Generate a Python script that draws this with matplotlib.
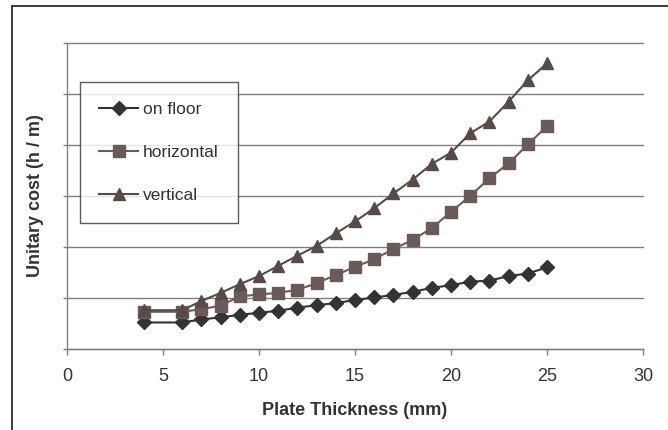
import matplotlib.pyplot as plt
from matplotlib.patches import Rectangle

plt.rcParams['font.family'] = ['Liberation Sans', 'DejaVu Sans']

# Data (y axis has no labels, gridline spacing = 1)
thickness = [4, 6, 7, 8, 9, 10, 11, 12, 13, 14, 15, 16, 17, 18, 19, 20, 21, 22, 23, 24, 25]
on_floor = [0.52, 0.52, 0.58, 0.62, 0.67, 0.71, 0.75, 0.81, 0.86, 0.90, 0.96,
            1.01, 1.06, 1.12, 1.20, 1.25, 1.32, 1.34, 1.43, 1.48, 1.60]
horizontal = [0.73, 0.73, 0.78, 0.85, 1.03, 1.07, 1.10, 1.16, 1.29, 1.45, 1.61,
              1.76, 1.96, 2.14, 2.37, 2.69, 3.00, 3.35, 3.64, 4.01, 4.37]
vertical = [0.76, 0.76, 0.94, 1.10, 1.27, 1.43, 1.63, 1.83, 2.02, 2.27, 2.50,
            2.76, 3.05, 3.32, 3.63, 3.85, 4.23, 4.46, 4.85, 5.27, 5.60]

fig = plt.figure(figsize=(6.68, 4.30), dpi=100)
ax = fig.add_axes([0.1003, 0.1884, 0.8623, 0.7116])

# outer chart border (only left/top visible in the reference)
fig.patches.append(Rectangle((12 / 668, -0.2), 1.5, 1.2 - 6 / 430,
                             transform=fig.transFigure, fill=False,
                             edgecolor='#3a3a3a', linewidth=1.4))

ax.plot(thickness, on_floor, color='#333333', marker='D', markersize=7.5,
        linewidth=1.5, label='on floor', zorder=3)
ax.plot(thickness, horizontal, color='#6b5b58', marker='s', markersize=8,
        linewidth=1.5, label='horizontal', zorder=3)
ax.plot(thickness, vertical, color='#574a47', marker='^', markersize=9,
        linewidth=1.5, label='vertical', zorder=3)

ax.set_xlim(0, 30)
ax.set_ylim(0, 6)
ax.set_xticks(range(0, 31, 5))
ax.set_yticks(range(0, 7))
ax.set_yticklabels([])
ax.yaxis.grid(True, color='#808080', linewidth=1.0)
ax.set_axisbelow(True)
for gl in ax.get_ygridlines():
    gl.set_clip_on(False)

for s in ['top', 'right']:
    ax.spines[s].set_visible(False)
for s in ['left', 'bottom']:
    ax.spines[s].set_color('#808080')
    ax.spines[s].set_linewidth(1.0)

ax.tick_params(axis='x', colors='#808080', length=4, width=1, pad=10,
               labelsize=13, labelcolor='#333333')
ax.tick_params(axis='y', colors='#808080', length=3, width=1)

ax.set_xlabel('Plate Thickness (mm)', fontsize=13, fontweight='bold',
              color='#333333', labelpad=12)
ax.set_ylabel('Unitary cost (h / m)', fontsize=13, fontweight='bold',
              color='#333333', labelpad=10)

leg = ax.legend(loc='upper left', bbox_to_anchor=(0.0226, 0.8725),
                borderaxespad=0, fontsize=12.5, frameon=True, fancybox=False,
                edgecolor='#333333', handlelength=2.2, handletextpad=0.3,
                labelspacing=1.62, borderpad=1.12)
leg.get_frame().set_linewidth(1.0)
for t in leg.get_texts():
    t.set_color('#333333')

fig.savefig('out.png', dpi=100)
